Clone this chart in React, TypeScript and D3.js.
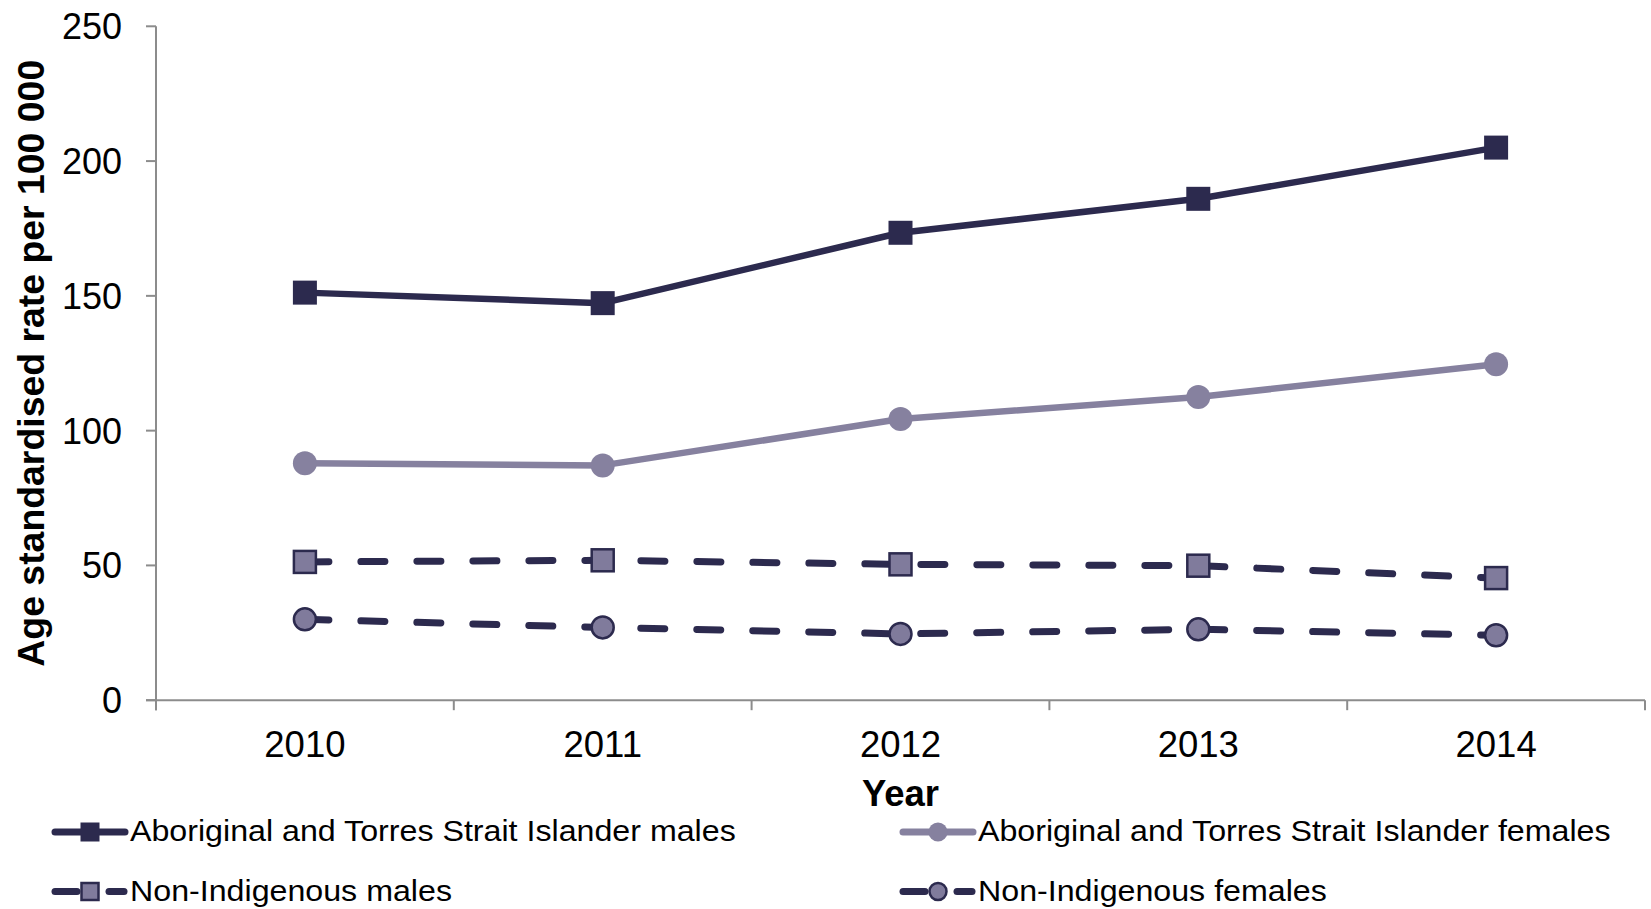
import React from "react";
import * as d3 from "d3";

const years = ["2010", "2011", "2012", "2013", "2014"];
const atsiMales = [151.2, 147.3, 173.4, 186.0, 205.0];
const atsiFemales = [87.9, 87.1, 104.3, 112.5, 124.6];
const nonIndMales = [51.3, 51.9, 50.4, 49.9, 45.3];
const nonIndFemales = [30.0, 27.0, 24.6, 26.3, 24.1];
const yTicks = [0, 50, 100, 150, 200, 250];

const DARK = "#2C2A4E";
const LIGHT = "#86819F";
const FILL = "#807B9C";
const AXIS = "#8C8C8C";

type Series = {
  name: string;
  values: number[];
  color: string;
  dashed: boolean;
  marker: "square" | "circle";
  fill: string;
  stroke: string;
};

const series: Series[] = [
  { name: "Aboriginal and Torres Strait Islander males", values: atsiMales, color: DARK, dashed: false, marker: "square", fill: DARK, stroke: "none" },
  { name: "Aboriginal and Torres Strait Islander females", values: atsiFemales, color: LIGHT, dashed: false, marker: "circle", fill: LIGHT, stroke: "none" },
  { name: "Non-Indigenous males", values: nonIndMales, color: DARK, dashed: true, marker: "square", fill: FILL, stroke: DARK },
  { name: "Non-Indigenous females", values: nonIndFemales, color: DARK, dashed: true, marker: "circle", fill: FILL, stroke: DARK },
];

const W = 1651;
const H = 909;
const left = 156;
const right = 1645;
const top = 26.3;
const bottom = 700.2;

function Marker({ kind, x, y, size, fill, stroke }: { kind: string; x: number; y: number; size: number; fill: string; stroke: string }) {
  if (kind === "square") {
    const s = stroke === "none" ? size : size - 2;
    return <rect x={x - s / 2} y={y - s / 2} width={s} height={s} fill={fill} stroke={stroke} strokeWidth={stroke === "none" ? 0 : 2.5} />;
  }
  const r = stroke === "none" ? size / 2 : size / 2 - 1;
  return <circle cx={x} cy={y} r={r} fill={fill} stroke={stroke} strokeWidth={stroke === "none" ? 0 : 2.5} />;
}

export default function App() {
  const x = d3.scaleBand<string>().domain(years).range([left, right]).padding(0);
  const y = d3.scaleLinear().domain([0, 250]).range([bottom, top]);
  const cx = (yr: string) => (x(yr) as number) + x.bandwidth() / 2;
  const line = d3
    .line<number>()
    .x((_, i) => cx(years[i]))
    .y((v) => y(v));

  const boundaries = [...years.map((yr) => x(yr) as number), right];

  const legendItems = [
    { s: series[0], lx: 55, ly: 832 },
    { s: series[1], lx: 903, ly: 832 },
    { s: series[2], lx: 55, ly: 891.5 },
    { s: series[3], lx: 903, ly: 891.5 },
  ];

  return (
    <svg width={W} height={H} style={{ position: "absolute", left: 0, top: 0, background: "#fff" }} fontFamily="'Liberation Sans', Arial, sans-serif">
      {/* axes */}
      <line x1={left} x2={left} y1={top} y2={bottom + 10} stroke={AXIS} strokeWidth={2} />
      <line x1={left - 10} x2={right} y1={bottom} y2={bottom} stroke={AXIS} strokeWidth={2} />
      {yTicks.map((t) => (
        <g key={t}>
          <line x1={left - 10} x2={left} y1={y(t)} y2={y(t)} stroke={AXIS} strokeWidth={2} />
          <text x={122} y={y(t)} dy="0.36em" textAnchor="end" fontSize={36} fill="#000">
            {t}
          </text>
        </g>
      ))}
      {boundaries.map((b, i) => (
        <line key={i} x1={b} x2={b} y1={bottom} y2={bottom + 10} stroke={AXIS} strokeWidth={2} />
      ))}
      {years.map((yr) => (
        <text key={yr} x={cx(yr)} y={757} textAnchor="middle" fontSize={36.5} fill="#000">
          {yr}
        </text>
      ))}
      <text x={cx(years[2])} y={806} textAnchor="middle" fontSize={36.5} fontWeight="bold" fill="#000">
        Year
      </text>
      <text
        transform={`translate(44.3, ${(top + bottom) / 2}) rotate(-90)`}
        textAnchor="middle"
        fontSize={37.4}
        fontWeight="bold"
        fill="#000"
      >
        Age standardised rate per 100 000
      </text>

      {/* series */}
      {series.map((s, si) => (
        <g key={si}>
          <path
            d={line(s.values) || ""}
            fill="none"
            stroke={s.color}
            strokeWidth={s.dashed ? 7 : 6.5}
            strokeDasharray={s.dashed ? "24 32" : undefined}
            strokeLinecap="round"
            strokeLinejoin="round"
          />
          {s.values.map((v, i) => (
            <Marker key={i} kind={s.marker} x={cx(years[i])} y={y(v)} size={24} fill={s.fill} stroke={s.stroke} />
          ))}
        </g>
      ))}

      {/* legend */}
      {legendItems.map(({ s, lx, ly }, i) => (
        <g key={i}>
          {s.dashed ? (
            <>
              <line x1={lx} x2={lx + 22} y1={ly} y2={ly} stroke={s.color} strokeWidth={7} strokeLinecap="round" />
              <line x1={lx + 54} x2={lx + 69} y1={ly} y2={ly} stroke={s.color} strokeWidth={7} strokeLinecap="round" />
            </>
          ) : (
            <line x1={lx} x2={lx + 70} y1={ly} y2={ly} stroke={s.color} strokeWidth={7} strokeLinecap="round" />
          )}
          <Marker kind={s.marker} x={lx + 35} y={ly} size={19} fill={s.fill} stroke={s.stroke} />
          <g transform={`translate(${lx + 75}, ${ly + 9}) scale(1.11, 1)`}>
            <text x={0} y={0} fontSize={29} fill="#000">
              {s.name}
            </text>
          </g>
        </g>
      ))}
    </svg>
  );
}
